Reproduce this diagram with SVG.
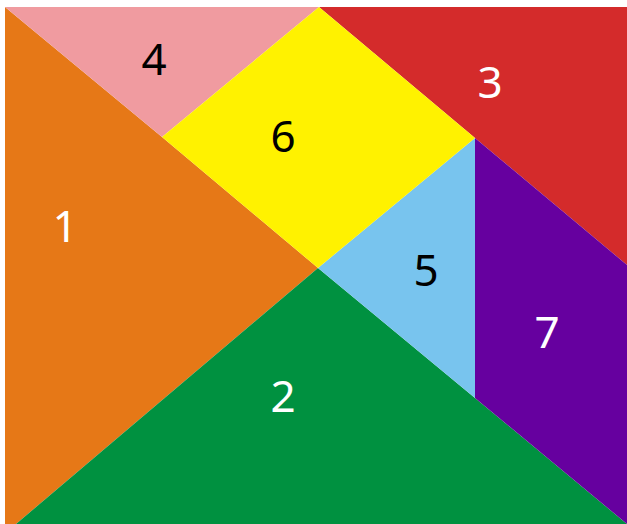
<svg xmlns="http://www.w3.org/2000/svg" width="627" height="524" viewBox="0 0 627 524">
<style>
.lbl{font-family:"Noto Sans","Open Sans","DejaVu Sans",sans-serif;font-size:44px;text-anchor:middle}
.w{fill:#ffffff}
.k{fill:#000000}
</style>
<rect x="0" y="0" width="627" height="524" fill="#ffffff"/>
<g id="piece1"><polygon points="5,7 162,137 318,268 16,524 5,524" fill="#E67817"/><text class="lbl w" x="65" y="242">1</text></g>
<g id="piece2"><polygon points="16,524 318,268 475,398 627,524" fill="#009140"/><text class="lbl w" x="283" y="412">2</text></g>
<g id="piece3"><polygon points="319,7 627,7 627,265 475,138" fill="#D42B2B"/><text class="lbl w" x="490" y="98">3</text></g>
<g id="piece4"><polygon points="5,7 319,7 162,137" fill="#F09BA0"/><text class="lbl k" x="154" y="75">4</text></g>
<g id="piece5"><polygon points="318,268 475,138 475,398" fill="#78C4EE"/><text class="lbl k" x="426" y="286">5</text></g>
<g id="piece6"><polygon points="162,137 319,7 475,138 318,268" fill="#FFF200"/><text class="lbl k" x="283" y="152">6</text></g>
<g id="piece7"><polygon points="475,138 627,265 627,524 475,398" fill="#66009F"/><text class="lbl w" x="547" y="348">7</text></g>
<g id="connectors"></g>
</svg>
